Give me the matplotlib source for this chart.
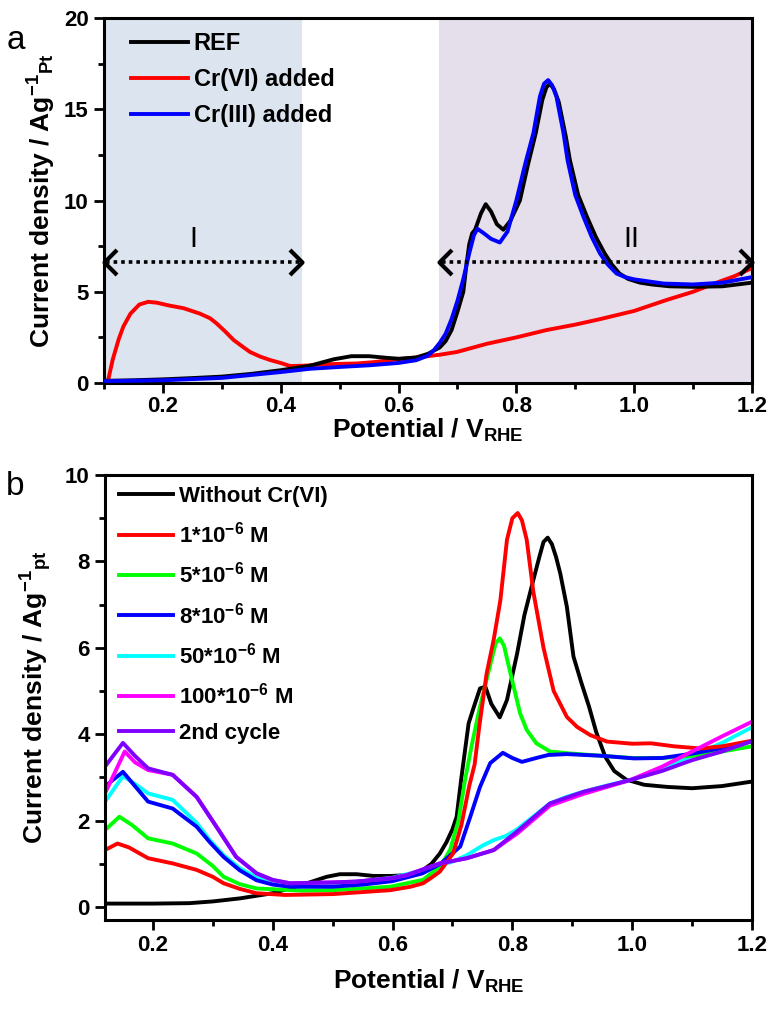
import matplotlib
matplotlib.use("Agg")
import matplotlib.pyplot as plt
from matplotlib.path import Path
from matplotlib.ticker import MultipleLocator

plt.rcParams["font.family"] = ["Liberation Sans", "DejaVu Sans"]
plt.rcParams["font.weight"] = "bold"
plt.rcParams["axes.labelweight"] = "bold"
plt.rcParams["mathtext.fontset"] = "custom"
plt.rcParams["mathtext.rm"] = "Liberation Sans:bold"
plt.rcParams["mathtext.it"] = "Liberation Sans:bold"
plt.rcParams["mathtext.bf"] = "Liberation Sans:bold"

# ---- panel a data ----
ref_x = [0.10, 0.15, 0.20, 0.25, 0.30, 0.35, 0.40, 0.45, 0.49, 0.52, 0.55, 0.58, 0.60, 0.63,
         0.65, 0.67, 0.68, 0.69, 0.70, 0.71, 0.715, 0.72, 0.725, 0.73, 0.74, 0.748, 0.757,
         0.767, 0.778, 0.79, 0.806, 0.82, 0.833, 0.844, 0.851, 0.857, 0.864, 0.872, 0.884,
         0.891, 0.905, 0.92, 0.935, 0.95, 0.962, 0.975, 0.99, 1.01, 1.03, 1.06, 1.10, 1.15, 1.20]
ref_y = [0.12, 0.15, 0.2, 0.27, 0.35, 0.5, 0.7, 0.95, 1.3, 1.47, 1.47, 1.38, 1.33, 1.4,
         1.6, 1.95, 2.3, 2.9, 3.9, 5.0, 6.4, 7.6, 8.2, 8.4, 9.3, 9.8, 9.4,
         8.7, 8.4, 8.9, 10.0, 12.0, 13.7, 15.5, 16.2, 16.4, 16.1, 15.4, 13.5,
         12.2, 10.3, 9.1, 8.0, 7.1, 6.5, 6.0, 5.7, 5.5, 5.4, 5.3, 5.27, 5.3, 5.5]

cr3_x = [0.10, 0.20, 0.30, 0.40, 0.45, 0.50, 0.55, 0.60, 0.63, 0.65, 0.66, 0.67, 0.68, 0.69,
         0.70, 0.71, 0.72, 0.728, 0.734, 0.745, 0.757, 0.772, 0.785, 0.80, 0.815, 0.829, 0.84,
         0.847, 0.854, 0.861, 0.868, 0.88, 0.887, 0.90, 0.914, 0.928, 0.942, 0.955, 0.97,
         0.985, 1.00, 1.05, 1.10, 1.15, 1.20]
cr3_y = [0.1, 0.15, 0.28, 0.6, 0.78, 0.88, 0.97, 1.1, 1.25, 1.5, 1.8, 2.2, 2.7, 3.5,
         4.5, 5.7, 7.1, 8.1, 8.45, 8.2, 7.9, 7.7, 8.3, 10.0, 12.0, 13.7, 15.7,
         16.4, 16.6, 16.3, 15.7, 13.7, 12.2, 10.3, 9.1, 8.0, 7.1, 6.5, 6.0,
         5.8, 5.68, 5.45, 5.4, 5.5, 5.8]

cr6_x = [0.103, 0.107, 0.115, 0.125, 0.133, 0.145, 0.16, 0.175, 0.19, 0.21, 0.235, 0.263, 0.28,
         0.291, 0.305, 0.32, 0.335, 0.348, 0.365, 0.382, 0.40, 0.416, 0.44, 0.472, 0.50, 0.529,
         0.56, 0.586, 0.615, 0.642, 0.67, 0.699, 0.75, 0.80, 0.851, 0.90, 0.942, 1.00, 1.055,
         1.10, 1.14, 1.17, 1.20]
cr6_y = [0.0, 0.15, 1.3, 2.4, 3.1, 3.8, 4.3, 4.45, 4.4, 4.25, 4.1, 3.8, 3.55,
         3.27, 2.85, 2.36, 2.0, 1.7, 1.45, 1.26, 1.1, 0.93, 0.95, 1.02, 1.05, 1.07,
         1.15, 1.26, 1.35, 1.44, 1.55, 1.7, 2.15, 2.5, 2.9, 3.2, 3.5, 3.95, 4.55,
         5.0, 5.5, 5.85, 6.3]

labels_a = ["REF", "Cr(VI) added", "Cr(III) added"]
region_I = (0.1, 0.436)
region_II = (0.669, 1.2)

# ---- panel b data ----
blk_x = [0.12, 0.20, 0.261, 0.30, 0.345, 0.40, 0.457, 0.49, 0.512, 0.54, 0.568, 0.60, 0.624,
         0.65, 0.665, 0.679, 0.69, 0.70, 0.707, 0.715, 0.727, 0.735, 0.746, 0.755, 0.765,
         0.779, 0.791, 0.808, 0.82, 0.835, 0.845, 0.852, 0.859, 0.866, 0.873, 0.88, 0.891,
         0.902, 0.915, 0.928, 0.94, 0.955, 0.97, 0.99, 1.02, 1.059, 1.10, 1.15, 1.198]
blk_y = [0.08, 0.08, 0.09, 0.13, 0.2, 0.32, 0.55, 0.7, 0.76, 0.76, 0.72, 0.72, 0.74,
         0.85, 1.0, 1.24, 1.5, 1.8, 2.09, 3.0, 4.25, 4.6, 5.06, 5.1, 4.7,
         4.39, 4.79, 5.87, 6.75, 7.57, 8.1, 8.45, 8.55, 8.4, 8.1, 7.72, 6.95,
         5.8, 5.2, 4.64, 4.05, 3.48, 3.15, 2.95, 2.83, 2.78, 2.75, 2.8, 2.9]

c1_x = [0.12, 0.141, 0.16, 0.192, 0.233, 0.273, 0.30, 0.318, 0.345, 0.373, 0.42, 0.50, 0.596,
        0.63, 0.651, 0.665, 0.679, 0.701, 0.715, 0.728, 0.737, 0.745, 0.757, 0.769, 0.78,
        0.791, 0.80, 0.809, 0.816, 0.824, 0.835, 0.852, 0.869, 0.891, 0.908, 0.93, 0.958,
        1.00, 1.031, 1.07, 1.114, 1.15, 1.20]
c1_y = [1.32, 1.47, 1.38, 1.13, 1.01, 0.86, 0.7, 0.55, 0.42, 0.32, 0.28, 0.3, 0.39,
        0.47, 0.55, 0.68, 0.82, 1.24, 1.9, 2.8, 3.3, 4.2, 5.4, 6.2, 7.1,
        8.5, 9.0, 9.12, 8.95, 8.5, 7.3, 6.0, 5.0, 4.4, 4.17, 3.98, 3.83,
        3.78, 3.79, 3.72, 3.67, 3.72, 3.85]

c5_x = [0.12, 0.144, 0.165, 0.192, 0.233, 0.273, 0.30, 0.318, 0.345, 0.373, 0.45, 0.50, 0.596,
        0.651, 0.68, 0.696, 0.71, 0.721, 0.733, 0.746, 0.763, 0.772, 0.779, 0.786, 0.797,
        0.813, 0.824, 0.84, 0.863, 0.90, 0.95, 1.00, 1.05, 1.10, 1.15, 1.20]
c5_y = [1.78, 2.09, 1.9, 1.59, 1.47, 1.24, 0.95, 0.7, 0.53, 0.43, 0.38, 0.39, 0.47,
        0.63, 0.95, 1.32, 2.0, 2.94, 3.8, 4.64, 5.6, 6.1, 6.22, 6.05, 5.4,
        4.48, 4.1, 3.79, 3.6, 3.55, 3.5, 3.45, 3.45, 3.5, 3.6, 3.72]

c8_x = [0.12, 0.15, 0.17, 0.192, 0.233, 0.273, 0.295, 0.318, 0.345, 0.373, 0.40, 0.429, 0.50,
        0.55, 0.60, 0.65, 0.68, 0.713, 0.73, 0.746, 0.763, 0.784, 0.80, 0.816, 0.84, 0.86,
        0.891, 0.95, 1.003, 1.05, 1.10, 1.15, 1.198]
c8_y = [2.79, 3.13, 2.8, 2.44, 2.28, 1.86, 1.5, 1.16, 0.85, 0.62, 0.52, 0.47, 0.47,
        0.52, 0.6, 0.78, 1.0, 1.4, 2.1, 2.78, 3.33, 3.57, 3.45, 3.36, 3.45, 3.52,
        3.54, 3.5, 3.44, 3.45, 3.55, 3.68, 3.83]

c50_x = [0.12, 0.15, 0.17, 0.192, 0.233, 0.273, 0.295, 0.318, 0.345, 0.373, 0.40, 0.44, 0.50,
         0.55, 0.60, 0.65, 0.668, 0.70, 0.724, 0.75, 0.769, 0.79, 0.808, 0.84, 0.863, 0.89,
         0.919, 0.96, 0.997, 1.05, 1.10, 1.15, 1.20]
c50_y = [2.44, 3.03, 2.85, 2.63, 2.48, 1.95, 1.55, 1.2, 0.9, 0.68, 0.58, 0.52, 0.55,
         0.6, 0.68, 0.85, 0.93, 1.05, 1.2, 1.42, 1.55, 1.65, 1.8, 2.15, 2.4, 2.55,
         2.67, 2.82, 2.94, 3.2, 3.5, 3.8, 4.16]

c100_x = [0.12, 0.153, 0.17, 0.192, 0.233, 0.273, 0.306, 0.339, 0.373, 0.40, 0.429, 0.50, 0.54,
          0.60, 0.624, 0.679, 0.724, 0.769, 0.808, 0.863, 0.919, 0.997, 1.05, 1.10, 1.15, 1.20]
c100_y = [2.63, 3.6, 3.35, 3.17, 3.06, 2.55, 1.86, 1.16, 0.78, 0.62, 0.55, 0.57, 0.59,
          0.67, 0.74, 1.01, 1.13, 1.32, 1.7, 2.35, 2.62, 2.94, 3.25, 3.6, 3.95, 4.29]

cyc2_x = [0.12, 0.15, 0.17, 0.192, 0.233, 0.273, 0.306, 0.339, 0.373, 0.40, 0.429, 0.50, 0.54,
          0.60, 0.624, 0.679, 0.724, 0.769, 0.808, 0.863, 0.919, 0.997, 1.05, 1.10, 1.15, 1.20]
cyc2_y = [3.25, 3.8, 3.5, 3.21, 3.06, 2.55, 1.86, 1.16, 0.78, 0.63, 0.55, 0.57, 0.59,
          0.67, 0.74, 1.01, 1.13, 1.32, 1.75, 2.4, 2.67, 2.94, 3.15, 3.4, 3.6, 3.84]

labels_b = ["Without Cr(VI)", r"1*10$^{-6}$ M", r"5*10$^{-6}$ M", r"8*10$^{-6}$ M",
            r"50*10$^{-6}$ M", r"100*10$^{-6}$ M", "2nd cycle"]
colors_b = ["#000000", "#ff0000", "#00ff00", "#0000ff", "#00ffff", "#ff00ff", "#8000ff"]

fig = plt.figure(figsize=(7.77, 10.13), dpi=100)
ax1 = fig.add_axes([0.1338, 0.6219, 0.834, 0.3603])
ax2 = fig.add_axes([0.1351, 0.0918, 0.8327, 0.4393])

lw = 2.8

# panel a
ax1.axvspan(*region_I, color="#dce4f0", lw=0, zorder=0)
ax1.axvspan(*region_II, color="#e4dfeb", lw=0, zorder=0)
ax1.plot(ref_x, ref_y, color="black", lw=lw, label=labels_a[0], zorder=3)
ax1.plot(cr6_x, cr6_y, color="#ff0000", lw=lw, label=labels_a[1], zorder=2)
ax1.plot(cr3_x, cr3_y, color="#0000ff", lw=lw, label=labels_a[2], zorder=4)

chev_l = Path([(1, 1), (0, 0), (1, -1)], [Path.MOVETO, Path.LINETO, Path.LINETO])
chev_r = Path([(-1, 1), (0, 0), (-1, -1)], [Path.MOVETO, Path.LINETO, Path.LINETO])
arrow_y = 6.65
for x0, x1 in (region_I, region_II):
    ax1.plot([x0 + 0.004, x1 - 0.004], [arrow_y, arrow_y], color="black", lw=2.6,
             ls=(0, (1, 1.1)), zorder=5, clip_on=False)
    ax1.plot([x0], [arrow_y], marker=chev_l, ms=18, mfc="none", mec="black", mew=3,
             zorder=5, clip_on=False)
    ax1.plot([x1], [arrow_y], marker=chev_r, ms=18, mfc="none", mec="black", mew=3,
             zorder=5, clip_on=False)
ax1.text(0.251, 7.9, "I", fontsize=21, fontweight="normal", ha="center", va="center")
ax1.text(0.996, 7.9, "II", fontsize=21, fontweight="normal", ha="center", va="center")

ax1.set_xlim(0.1, 1.2)
ax1.set_ylim(0, 20)
ax1.xaxis.set_major_locator(MultipleLocator(0.2))
ax1.xaxis.set_minor_locator(MultipleLocator(0.1))
ax1.yaxis.set_major_locator(MultipleLocator(5))
ax1.yaxis.set_minor_locator(MultipleLocator(2.5))
ax1.set_xlabel(r"Potential / V$_{RHE}$", fontsize=19, labelpad=0)
ax1.set_ylabel(r"Current density / Ag$^{-1}$$_{Pt}$", fontsize=19, labelpad=4)
ax1.legend(loc="upper left", prop={"size": 17, "weight": "bold"}, frameon=False,
           handlelength=2.4, handletextpad=0.25, labelspacing=0.55, borderaxespad=0.2,
           bbox_to_anchor=(0.02, 1.0))
fig.text(0.008, 0.975, "a", fontsize=24, fontweight="normal", va="top")

# panel b
series_b = [(blk_x, blk_y), (c1_x, c1_y), (c5_x, c5_y), (c8_x, c8_y),
            (c50_x, c50_y), (c100_x, c100_y), (cyc2_x, cyc2_y)]
order = [0, 4, 2, 3, 1, 5, 6]
lines = {}
for i in order:
    xs, ys = series_b[i]
    lines[i], = ax2.plot(xs, ys, color=colors_b[i], lw=lw, label=labels_b[i])
ax2.set_xlim(0.12, 1.2)
ax2.set_ylim(-0.3, 10)
ax2.xaxis.set_major_locator(MultipleLocator(0.2))
ax2.xaxis.set_minor_locator(MultipleLocator(0.1))
ax2.yaxis.set_major_locator(MultipleLocator(2))
ax2.yaxis.set_minor_locator(MultipleLocator(1))
ax2.set_xlabel(r"Potential / V$_{RHE}$", fontsize=19, labelpad=8)
ax2.set_ylabel(r"Current density / Ag$^{-1}$$_{pt}$", fontsize=19, labelpad=8)
ax2.legend([lines[i] for i in range(7)], labels_b, loc="upper left",
           prop={"size": 16, "weight": "bold"}, frameon=False, handlelength=2.4,
           handletextpad=0.3, labelspacing=0.65, borderaxespad=0.1,
           bbox_to_anchor=(0.005, 1.0))
fig.text(0.008, 0.535, "b", fontsize=24, fontweight="normal", va="top")

for ax in (ax1, ax2):
    for s in ax.spines.values():
        s.set_linewidth(2.2)
    ax.tick_params(which="major", direction="out", length=7, width=2, labelsize=16, pad=4)
    ax.tick_params(which="minor", direction="out", length=4.5, width=2)
    ax.tick_params(top=False, right=False, which="both")
    for lab in ax.get_xticklabels() + ax.get_yticklabels():
        lab.set_fontweight("bold")
ax1.tick_params(axis="x", which="major", pad=2)

fig.savefig("out.png", dpi=100)
